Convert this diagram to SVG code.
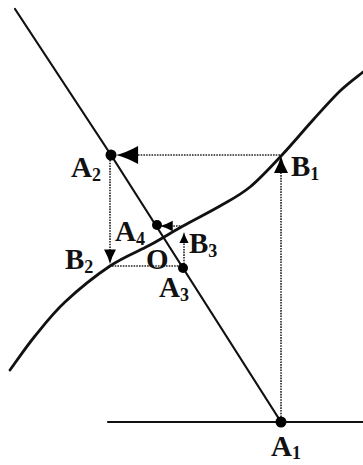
<svg xmlns="http://www.w3.org/2000/svg" xmlns:xlink="http://www.w3.org/1999/xlink" width="363" height="465" viewBox="0 0 363 465">
<style>
.solid{fill:none;stroke:#111;stroke-width:2.2;stroke-linecap:round}
.curve{fill:none;stroke:#111;stroke-width:2.8;stroke-linecap:round}
.dot{fill:#000}
.dash{fill:none;stroke:#222;stroke-width:1.6;stroke-dasharray:1.6 1.1}
.lbl{font-family:"Liberation Serif","Times New Roman",serif;font-weight:bold;font-size:29px;fill:#111}
.sub{font-size:18px}
</style>
<defs>
<path id="ah" d="M0,0 Q-2,8 -7,17 L7,17 Q2,8 0,0 Z" fill="#000"/>
</defs>
<rect width="363" height="465" fill="#fff"/>
<g id="axes">
<polyline class="solid" points="15,9 111,155 281,422"/>
<line class="solid" x1="108" y1="422" x2="363" y2="422"/>
<path class="curve" d="M10,370 C14.2,364.3 25.8,347.3 35,336 C44.2,324.7 52.5,313.7 65,302 C77.5,290.3 95.8,275.5 110,266 C124.2,256.5 137.8,251.7 150,245 C162.2,238.3 171.3,232.5 183,226 C194.7,219.5 208.8,212.5 220,206 C231.2,199.5 239.7,195.5 250,187 C260.3,178.5 271.5,166.2 282,155 C292.5,143.8 303.3,130.7 313,120 C322.7,109.3 331.7,99 340,91 C348.3,83 359.2,75.2 363,72"/>
</g>
<g id="connectors">
<line class="dash" x1="281" y1="417" x2="281" y2="170"/>
<line class="dash" x1="280" y1="155" x2="136" y2="155"/>
<line class="dash" x1="110" y1="160" x2="110" y2="252"/>
<line class="dash" x1="112" y1="266" x2="180" y2="266"/>
<line class="dash" x1="184" y1="264" x2="184" y2="241"/>
<line class="dash" x1="183" y1="226" x2="170" y2="226"/>
<use xlink:href="#ah" transform="translate(281,156)"/>
<use xlink:href="#ah" transform="translate(116,155) rotate(-90) scale(1.3)"/>
<use xlink:href="#ah" transform="translate(110,264) rotate(180) scale(0.85)"/>
<use xlink:href="#ah" transform="translate(184,232) scale(0.65)"/>
<use xlink:href="#ah" transform="translate(160,226) rotate(-90) scale(0.75)"/>
</g>
<g id="A1"><circle class="dot" cx="281" cy="422" r="5.5"/><text class="lbl" x="271" y="456">A<tspan class="sub" dy="3">1</tspan></text></g>
<g id="A2"><circle class="dot" cx="111" cy="155" r="5.5"/><text class="lbl" x="71" y="177">A<tspan class="sub" dy="4">2</tspan></text></g>
<g id="A3"><circle class="dot" cx="183" cy="268" r="5"/><text class="lbl" x="159" y="297">A<tspan class="sub" dy="4">3</tspan></text></g>
<g id="A4"><circle class="dot" cx="157" cy="225" r="5"/><text class="lbl" x="115" y="241">A<tspan class="sub" dy="4">4</tspan></text></g>
<g id="B1"><text class="lbl" x="291" y="176">B<tspan class="sub" dy="4">1</tspan></text></g>
<g id="B2"><text class="lbl" x="65" y="269">B<tspan class="sub" dy="4">2</tspan></text></g>
<g id="B3"><text class="lbl" x="189" y="253">B<tspan class="sub" dy="4">3</tspan></text></g>
<g id="O"><text class="lbl" x="146" y="269">O</text></g>
</svg>
